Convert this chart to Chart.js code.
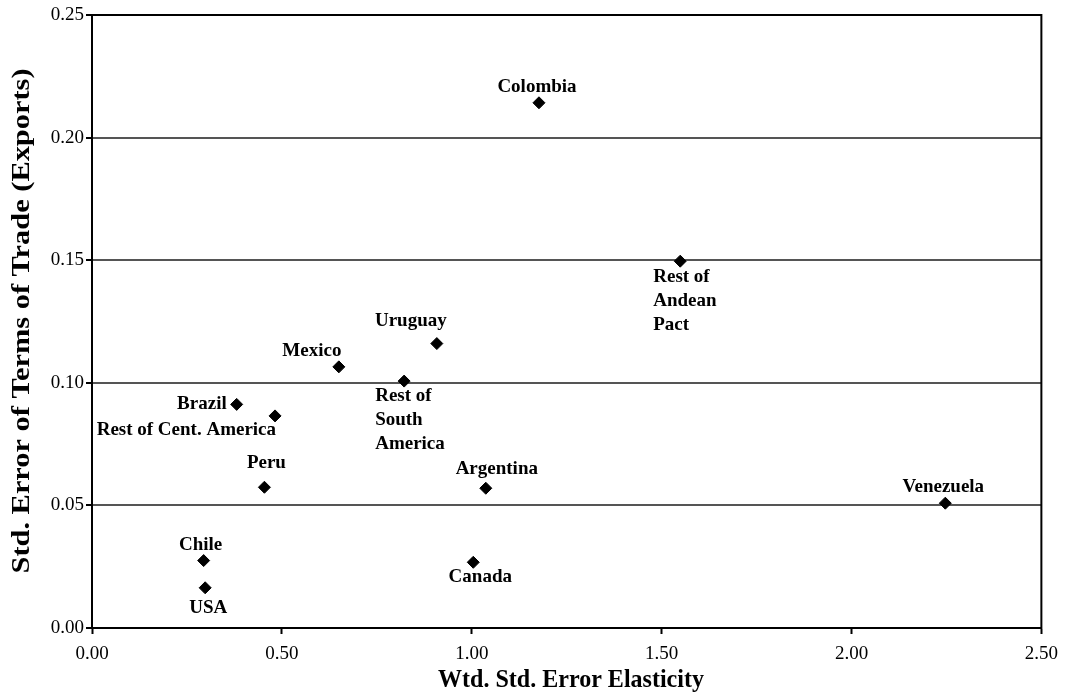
<!DOCTYPE html>
<html>
<head>
<meta charset="utf-8">
<script src="https://cdn.jsdelivr.net/npm/chart.js@4"></script>
<style>
  body { margin: 0; background: #fff; }
  canvas { display: block; }
</style>
</head>
<body>
<canvas id="chart" width="1067" height="697"></canvas>
<script>
// values
var countries = ['Colombia', 'Rest of Andean Pact', 'Uruguay', 'Mexico', 'Brazil',
    'Rest of Cent. America', 'Rest of South America', 'Peru', 'Argentina',
    'Venezuela', 'Chile', 'Canada', 'USA'];
var elasticityErr = [1.177, 1.549, 0.908, 0.650, 0.381, 0.482, 0.822, 0.454, 1.037, 2.247, 0.294, 1.004, 0.298];
var totErr = [0.2142, 0.1496, 0.1160, 0.1065, 0.0912, 0.0865, 0.1007, 0.0574, 0.0570, 0.0509, 0.0275, 0.0268, 0.0164];

var xTicks = [0, 0.5, 1.0, 1.5, 2.0, 2.5];
var yTicks = [0, 0.05, 0.10, 0.15, 0.20, 0.25];

// how each label sits next to its marker (lines, align, dx, dy)
var labelLayout = [
    { lines: ['Colombia'], align: 'center', dx: -2, dy: -16 },
    { lines: ['Rest of', 'Andean', 'Pact'], align: 'left', dx: -27, dy: 16 },
    { lines: ['Uruguay'], align: 'center', dx: -26, dy: -22 },
    { lines: ['Mexico'], align: 'center', dx: -27, dy: -16 },
    { lines: ['Brazil'], align: 'right', dx: -10, dy: 0 },
    { lines: ['Rest of Cent. America'], align: 'right', dx: 1, dy: 14 },
    { lines: ['Rest of', 'South', 'America'], align: 'left', dx: -29, dy: 15 },
    { lines: ['Peru'], align: 'center', dx: 2, dy: -24 },
    { lines: ['Argentina'], align: 'center', dx: 11, dy: -19 },
    { lines: ['Venezuela'], align: 'center', dx: -2, dy: -16 },
    { lines: ['Chile'], align: 'center', dx: -3, dy: -15 },
    { lines: ['Canada'], align: 'center', dx: 7, dy: 15 },
    { lines: ['USA'], align: 'center', dx: 3, dy: 20 }
];

var serif = "'Liberation Serif', 'Times New Roman', serif";

var points = elasticityErr.map(function (x, i) {
    return { x: x, y: totErr[i] };
});

// draw text fitted to a given length (the source titles use a narrower face)
function fitText(ctx, text, len) {
    var w = ctx.measureText(text).width;
    ctx.scale(len / w, 1);
    ctx.fillText(text, 0, 0);
}

var extras = {
    id: 'extras',
    beforeDatasetsDraw: function (chart) {
        var ctx = chart.ctx, a = chart.chartArea;
        ctx.save();
        ctx.strokeStyle = '#000';
        ctx.lineWidth = 2;
        ctx.strokeRect(a.left, a.top, a.right - a.left, a.bottom - a.top);
        ctx.restore();
    },
    afterDatasetsDraw: function (chart) {
        var ctx = chart.ctx;
        var meta = chart.getDatasetMeta(0);
        ctx.save();
        ctx.fillStyle = '#000';
        ctx.font = 'bold 19px ' + serif;
        ctx.textBaseline = 'middle';
        meta.data.forEach(function (pt, i) {
            var l = labelLayout[i];
            ctx.textAlign = l.align;
            l.lines.forEach(function (line, k) {
                ctx.fillText(line, pt.x + l.dx, pt.y + l.dy + k * 24);
            });
        });
        // axis titles
        ctx.font = 'bold 26px ' + serif;
        ctx.textAlign = 'center';
        ctx.save();
        ctx.translate(571, 680);
        fitText(ctx, 'Wtd. Std. Error Elasticity', 266);
        ctx.restore();
        ctx.translate(22, 321);
        ctx.rotate(-Math.PI / 2);
        fitText(ctx, 'Std. Error of Terms of Trade (Exports)', 505);
        ctx.restore();
    }
};

var chart = new Chart(document.getElementById('chart'), {
    type: 'scatter',
    data: {
        datasets: [{
            label: 'Countries',
            data: points,
            backgroundColor: '#000',
            borderColor: '#000',
            pointStyle: 'rectRot',
            pointRadius: 6,
            pointHoverRadius: 6
        }]
    },
    options: {
        responsive: false,
        devicePixelRatio: 1,
        animation: false,
        layout: {
            padding: { top: 15, right: 25, left: 0, bottom: 0 }
        },
        plugins: {
            legend: { display: false },
            tooltip: { enabled: false }
        },
        scales: {
            x: {
                type: 'linear',
                min: 0,
                max: 2.5,
                afterFit: function (s) { s.height = 69; },
                afterBuildTicks: function (s) {
                    s.ticks = xTicks.map(function (v) { return { value: v }; });
                },
                grid: {
                    drawOnChartArea: false,
                    tickLength: 6,
                    tickColor: '#000',
                    tickWidth: 2
                },
                border: { color: '#000', width: 2 },
                ticks: {
                    padding: 9,
                    color: '#000',
                    font: { family: serif, size: 19 },
                    maxRotation: 0,
                    callback: function (v) { return v.toFixed(2); }
                }
            },
            y: {
                type: 'linear',
                min: 0,
                max: 0.25,
                afterFit: function (s) { s.width = 92; },
                afterBuildTicks: function (s) {
                    s.ticks = yTicks.map(function (v) { return { value: v }; });
                },
                grid: {
                    color: '#555',
                    lineWidth: 2,
                    tickLength: 6,
                    tickColor: '#000',
                    tickWidth: 2
                },
                border: { color: '#000', width: 2 },
                ticks: {
                    padding: 2,
                    color: '#000',
                    font: { family: serif, size: 19 },
                    callback: function (v) { return v.toFixed(2); }
                }
            }
        }
    },
    plugins: [extras]
});
</script>
</body>
</html>
